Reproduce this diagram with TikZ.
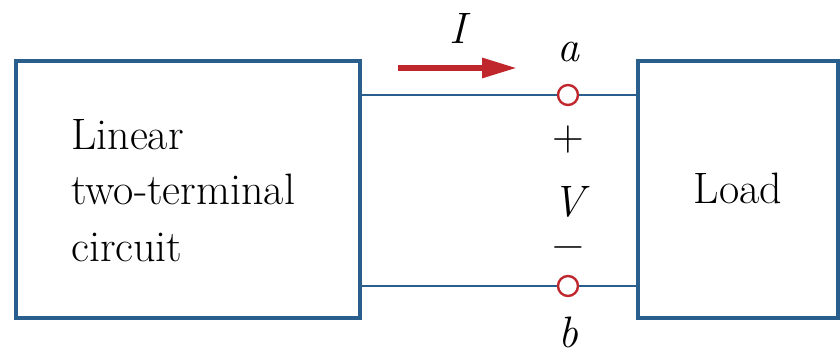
\documentclass[tikz,border=0pt]{standalone}
\usetikzlibrary{arrows.meta}
\definecolor{boxblue}{RGB}{42,94,140}
\definecolor{termred}{RGB}{192,39,45}
\begin{document}
\begin{tikzpicture}[x=1pt,y=1pt,
  blockbox/.style={draw=boxblue,line width=4pt,minimum width=#1,minimum height=257pt,inner sep=0pt},
  wire/.style={draw=boxblue,line width=2.2pt},
  terminal/.style={circle,draw=termred,fill=white,line width=2.4pt,minimum size=20pt,inner sep=0pt},
  lbl/.style={font=\fontsize{44}{56}\selectfont,inner sep=0pt},
  ilbl/.style={font=\fontsize{44}{56}\selectfont\itshape,inner sep=0pt}]
\useasboundingbox (0,0) rectangle (840,352);
% blocks
\node[blockbox=344pt] (L) at (188,162.5) {};
\node[blockbox=200pt] (R) at (738,162.5) {};
% left text
\node[lbl,anchor=base west] (t1) at (71,202) {Linear};
\node[lbl,anchor=base west] (t2) at (71,147) {two-terminal};
\node[lbl,anchor=base west] (t3) at (71,90) {circuit};
\node[lbl] (load) at (738,164) {Load};
% terminals
\node[terminal] (ta) at (568,257) {};
\node[terminal] (tb) at (568,66) {};
% wires
\draw[wire] (L.east |- ta) -- (ta.west);
\draw[wire] (ta.east) -- (R.west |- ta);
\draw[wire] (L.east |- tb) -- (tb.west);
\draw[wire] (tb.east) -- (R.west |- tb);
% current arrow
\coordinate (ar1) at (398,284);
\coordinate (ar2) at (517,284);
\draw[termred,line width=6pt,-{Triangle[length=35pt,width=19pt]}] (ar1) -- (ar2);
% labels
\node[ilbl] (I) at (458,324) {I};
\node[ilbl] (la) at (568,300) {a};
\node[lbl] (plus) at (568,212) {+};
\node[ilbl] (V) at (568,150) {V};
\node[lbl] (minus) at (568,99) {−};
\node[ilbl] (lb) at (568,20) {b};
\end{tikzpicture}
\end{document}
